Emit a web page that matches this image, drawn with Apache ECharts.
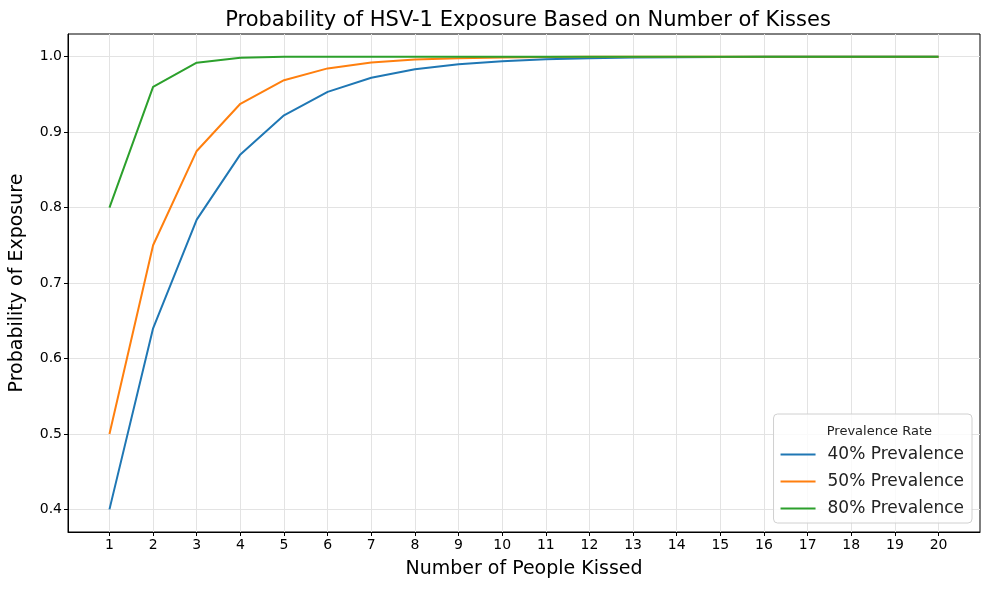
<!DOCTYPE html>
<html>
<head>
<meta charset="utf-8">
<script src="https://cdn.jsdelivr.net/npm/echarts@6/dist/echarts.min.js"></script>
<style>
  html, body { margin: 0; padding: 0; background: #fff; }
  #chart { width: 989px; height: 590px; }
</style>
</head>
<body>
<div id="chart"></div>
<script>
// number of people kissed
const kisses = [1, 2, 3, 4, 5, 6, 7, 8, 9, 10, 11, 12, 13, 14, 15, 16, 17, 18, 19, 20]
// probability of exposure
const prev40 = [0.4, 0.64, 0.784, 0.8704, 0.9222, 0.9533, 0.972, 0.9832, 0.9899, 0.994,
  0.9964, 0.9978, 0.9987, 0.9992, 0.9995, 0.9997, 0.9998, 0.9999, 0.9999, 1.0]
const prev50 = [0.5, 0.75, 0.875, 0.9375, 0.9688, 0.9844, 0.9922, 0.9961, 0.998, 0.999,
  0.9995, 0.9998, 0.9999, 0.9999, 1.0, 1.0, 1.0, 1.0, 1.0, 1.0]
const prev80 = [0.8, 0.96, 0.992, 0.9984, 0.9997, 0.9999, 1.0, 1.0, 1.0, 1.0,
  1.0, 1.0, 1.0, 1.0, 1.0, 1.0, 1.0, 1.0, 1.0, 1.0]
const seriesNames = ['40% Prevalence', '50% Prevalence', '80% Prevalence']
const yTicks = [0.4, 0.5, 0.6, 0.7, 0.8, 0.9, 1.0]

const colors = ['#1f77b4', '#ff7f0e', '#2ca02c']
const font = 'DejaVu Sans'

function pairs(vals) {
  return kisses.map((k, i) => [k, vals[i]])
}

const chart = echarts.init(document.getElementById('chart'))
chart.setOption({
  animation: false,
  color: colors,
  textStyle: { fontFamily: font },
  title: {
    text: 'Probability of HSV-1 Exposure Based on Number of Kisses',
    left: 523,
    top: 5,
    textAlign: 'center',
    textStyle: { fontFamily: font, fontSize: 21, fontWeight: 'normal', color: '#000' }
  },
  grid: {
    left: 65, right: 9, top: 34, bottom: 58,
    show: true, borderColor: '#000', borderWidth: 1,
    containLabel: false
  },
  legend: {
    orient: 'vertical',
    right: 17,
    bottom: 67,
    data: seriesNames,
    padding: [32, 8, 6, 6],
    itemWidth: 35,
    itemHeight: 14,
    itemGap: 10,
    itemStyle: { opacity: 0 },
    lineStyle: { width: 2 },
    borderColor: '#d0d0d0',
    borderWidth: 1,
    borderRadius: 4,
    backgroundColor: 'rgba(255,255,255,0.8)',
    textStyle: { fontFamily: font, fontSize: 17, color: '#222', padding: [0, 0, 0, 7], lineHeight: 17 }
  },
  graphic: [{
    type: 'text',
    right: 57,
    bottom: 152,
    z: 100,
    style: { text: 'Prevalence Rate', font: '13px "DejaVu Sans"', fill: '#222' }
  }],
  xAxis: {
    type: 'value',
    min: 0.05,
    max: 20.95,
    name: 'Number of People Kissed',
    nameLocation: 'middle',
    nameGap: 28,
    nameTextStyle: { fontFamily: font, fontSize: 19, color: '#000' },
    axisLine: { show: true, onZero: false, lineStyle: { color: '#000', width: 1 } },
    axisTick: { show: true, length: 4, customValues: kisses, lineStyle: { color: '#000' } },
    axisLabel: { customValues: kisses, fontSize: 14, color: '#000', margin: 6 },
    splitLine: { show: true, lineStyle: { color: '#e3e3e3', width: 1 } }
  },
  yAxis: {
    type: 'value',
    min: 0.37,
    max: 1.03,
    name: 'Probability of Exposure',
    nameLocation: 'middle',
    nameGap: 41,
    nameTextStyle: { fontFamily: font, fontSize: 19, color: '#000' },
    axisLine: { show: true, onZero: false, lineStyle: { color: '#000', width: 1 } },
    axisTick: { show: true, length: 4, customValues: yTicks, lineStyle: { color: '#000' } },
    axisLabel: { customValues: yTicks, fontSize: 14, color: '#000', margin: 6,
      formatter: v => v.toFixed(1) },
    splitLine: { show: true, lineStyle: { color: '#e3e3e3', width: 1 } }
  },
  series: [
    { name: seriesNames[0], type: 'line', data: pairs(prev40), symbol: 'none', lineStyle: { width: 2 } },
    { name: seriesNames[1], type: 'line', data: pairs(prev50), symbol: 'none', lineStyle: { width: 2 } },
    { name: seriesNames[2], type: 'line', data: pairs(prev80), symbol: 'none', lineStyle: { width: 2 } }
  ]
})
</script>
</body>
</html>
